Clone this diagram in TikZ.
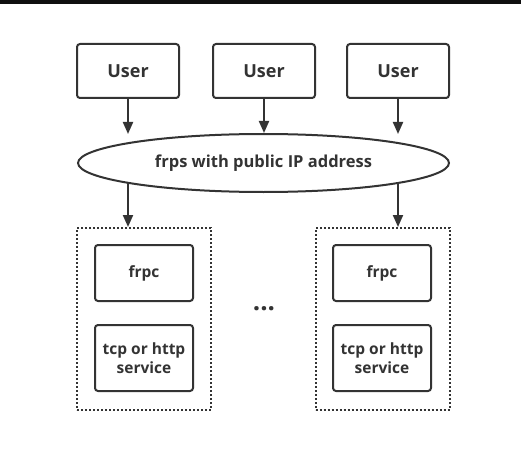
\documentclass[tikz,border=0pt]{standalone}
\usepackage{fontspec}
\setmainfont{Open Sans}
\usetikzlibrary{arrows.meta,shapes.geometric}
\begin{document}
\begin{tikzpicture}[x=1pt, y=-1pt, line width=2pt]
  \definecolor{darkgray}{RGB}{51,51,51}
  \definecolor{topbar}{RGB}{15,15,15}
  \tikzset{
    user/.style={draw=darkgray, rounded corners=3pt, minimum width=102pt, minimum height=54pt, inner sep=0pt, text=darkgray, font=\bfseries\fontsize{18}{20}\selectfont},
    client/.style={draw=darkgray, rounded corners=3pt, minimum width=98pt, inner sep=0pt, align=center, text=darkgray, font=\bfseries\fontsize{15.5}{19}\selectfont},
    group/.style={draw=darkgray, dotted, inner sep=0pt, minimum width=134pt, minimum height=182pt},
    arr/.style={draw=darkgray, -{Triangle[width=10pt,length=12pt]}}
  }
  \useasboundingbox (0, 0) rectangle (521, 457);
  \fill [topbar] (0, 0) rectangle (521, 4);

  \node [user] (u1) at (128, 71) {User};
  \node [user] (u2) at (264, 71) {User};
  \node [user] (u3) at (398, 71) {User};

  \node [group] (c1) at (144, 319) {};
  \node [group] (c2) at (382.5, 319) {};

  \draw [arr] (u1.south) -- (u1.south |- 0, 134);
  \draw [arr] (u2.south) -- (u2.south |- 0, 133);
  \draw [arr] (u3.south) -- (u3.south |- 0, 134);
  \draw [arr] (u1.south |- 0, 163) -- (u1.south |- c1.north);
  \draw [arr] (u3.south |- 0, 163) -- (u3.south |- c2.north);

  \node [ellipse, draw=darkgray, fill=white, minimum width=371pt, minimum height=58pt, inner sep=0pt, text=darkgray, font=\bfseries\fontsize{16.5}{20}\selectfont] (s) at (263.5, 163) {frps with public IP address};

  \node [client, minimum height=56pt] (f1) at (144, 273) {frpc};
  \node [client, minimum height=66pt] (t1) at (144, 358) {tcp or http\\service};
  \node [client, minimum height=56pt] (f2) at (382, 273) {frpc};
  \node [client, minimum height=66pt] (t2) at (382, 358) {tcp or http\\service};

  \node [text=darkgray, inner sep=0pt, font=\bfseries\fontsize{26}{28}\selectfont] (dots) at (264, 309) {...};
\end{tikzpicture}
\end{document}
